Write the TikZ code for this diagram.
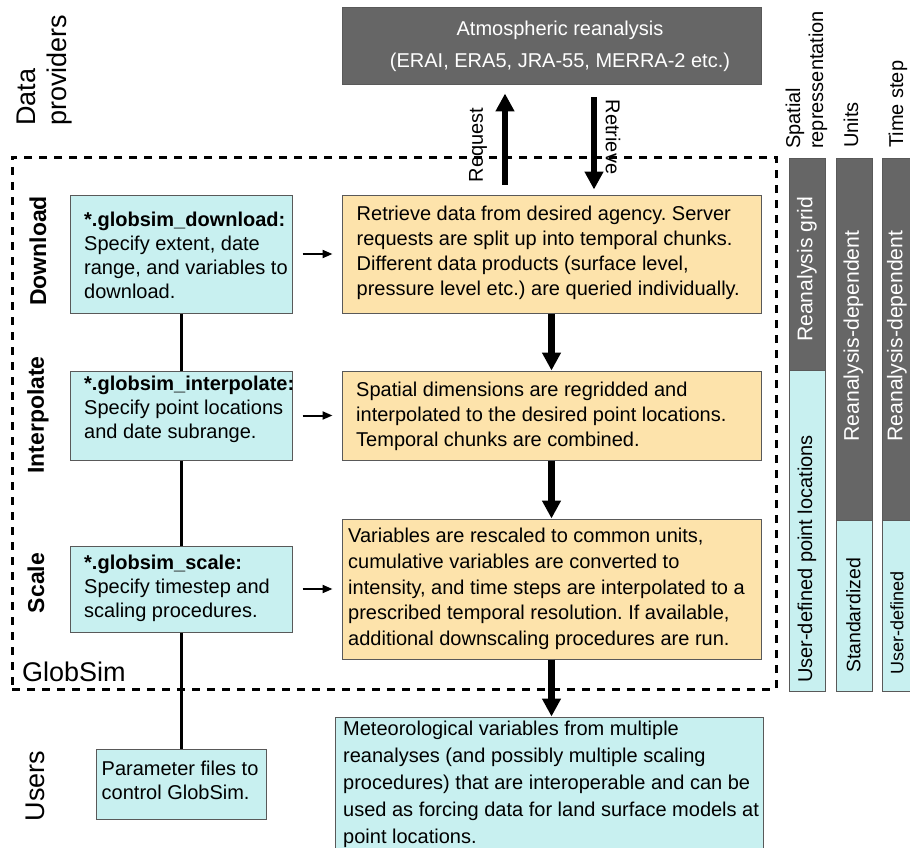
\documentclass[tikz,border=0pt]{standalone}
\usepackage{fontspec}
\setmainfont{Liberation Sans}
\usetikzlibrary{positioning}
\usetikzlibrary{arrows.meta}
\frenchspacing

\definecolor{barGray}{HTML}{666666}
\definecolor{boxCyan}{HTML}{C8F0F0}
\definecolor{boxOrange}{HTML}{FDE3AB}
\definecolor{boxEdge}{HTML}{595959}

\tikzset{
    box/.style={draw=boxEdge, line width=1pt, inner sep=0pt},
    cyanbox/.style={box, fill=boxCyan},
    orangebox/.style={box, fill=boxOrange},
    darkbox/.style={box, fill=barGray},
    cyantext/.style={anchor=west, align=left, inner sep=0pt, font=\fontsize{20}{24}\selectfont},
    orangetext/.style={anchor=west, align=left, inner sep=0pt, font=\fontsize{20}{25}\selectfont},
    bartext/.style={rotate=90, inner sep=0pt, font=\fontsize{20}{24}\selectfont},
    stagelabel/.style={rotate=90, inner sep=0pt, font=\bfseries\fontsize{23}{27}\selectfont},
    biglabel/.style={inner sep=0pt, align=left, font=\fontsize{27}{31}\selectfont},
    headlabel/.style={rotate=90, anchor=west, align=left, inner sep=0pt, font=\fontsize{20}{23}\selectfont},
    thickarrow/.style={line width=6.5pt, -{Triangle[width=18pt,length=18pt]}},
    thinarrow/.style={line width=2pt, -{Triangle[width=8pt,length=10pt]}, shorten <=10pt, shorten >=9pt},
    linkline/.style={line width=3pt},
    framebox/.style={draw, line width=3pt, dash pattern=on 8pt off 7pt, inner sep=0pt}
}

\begin{document}
\begin{tikzpicture}[x=1pt, y=-1pt]
    \useasboundingbox (0, 0) rectangle (910, 848);

    \node[framebox, minimum width=764pt, minimum height=532pt] (globsim) at (394, 423) {};
    \node[biglabel, anchor=west] (globsimname) at (22, 672) {GlobSim};

    \node[biglabel, rotate=90, anchor=west] (providers) at (44.5, 126) {Data\\providers};
    \node[biglabel, rotate=90] (users) at (35, 786) {Users};
    \node[stagelabel] (dlstage) at (38, 251) {Download};
    \node[stagelabel] (ipstage) at (38, 415) {Interpolate};
    \node[stagelabel] (scstage) at (36, 583) {Scale};

    \node[darkbox, minimum width=419pt, minimum height=77pt] (atmos) at (551.5, 46.5) {};
    \node[align=center, text=white, inner sep=0pt, font=\fontsize{20}{32}\selectfont] (atmostext) at (560, 46.5) {Atmospheric reanalysis\\(ERAI, ERA5, JRA-55, MERRA-2 etc.)};

    \node[cyanbox, minimum width=222pt, minimum height=118pt] (dlbox) at (181, 254) {};
    \node[cyanbox, minimum width=222pt, minimum height=89pt] (ipbox) at (181, 415.5) {};
    \node[cyanbox, minimum width=222pt, minimum height=86pt] (scbox) at (181, 589) {};
    \node[cyanbox, minimum width=170pt, minimum height=70pt] (usbox) at (181, 784) {};
    \draw[linkline] (dlbox.south) -- (ipbox.north);
    \draw[linkline] (ipbox.south) -- (scbox.north);
    \draw[linkline] (scbox.south) -- (usbox.north);

    \node[cyantext] (dltext) at (84, 255.5) {\textbf{*.globsim\_download:}\\Specify extent, date\\range, and variables to\\download.};
    \node[cyantext] (iptext) at (84, 409) {\textbf{*.globsim\_interpolate:}\\Specify point locations\\and date subrange.};
    \node[cyantext] (sctext) at (84, 588.5) {\textbf{*.globsim\_scale:}\\Specify timestep and\\scaling procedures.};
    \node[cyantext] (ustext) at (101.5, 780.5) {Parameter files to\\control GlobSim.};

    \node[orangebox, minimum width=419pt, minimum height=118pt] (retrieve) at (551.5, 254) {};
    \node[orangebox, minimum width=419pt, minimum height=89pt] (regrid) at (551.5, 415.5) {};
    \node[orangebox, minimum width=419pt, minimum height=140pt] (rescale) at (551.5, 589) {};
    \node[cyanbox, minimum width=428pt, minimum height=145pt] (result) at (549, 789.5) {};

    \node[orangetext] (retrievetext) at (356.5, 252.5) {Retrieve data from desired agency. Server\\requests are split up into temporal chunks.\\Different data products (surface level,\\pressure level etc.) are queried individually.};
    \node[orangetext] (regridtext) at (356, 416) {Spatial dimensions are regridded and\\interpolated to the desired point locations.\\Temporal chunks are combined.};
    \node[orangetext, font=\fontsize{20}{25.8}\selectfont] (rescaletext) at (348, 589) {Variables are rescaled to common units,\\cumulative variables are converted to\\intensity, and time steps are interpolated to a\\prescribed temporal resolution. If available,\\additional downscaling procedures are run.};
    \node[orangetext, font=\fontsize{20}{27}\selectfont] (resulttext) at (343, 784) {Meteorological variables from multiple\\reanalyses (and possibly multiple scaling\\procedures) that are interoperable and can be\\used as forcing data for land surface models at\\point locations.};

    \draw[thinarrow] (dlbox.east) -- (retrieve.west);
    \draw[thinarrow] (ipbox.east) -- (regrid.west);
    \draw[thinarrow] (scbox.east) -- (rescale.west);

    \draw[thickarrow] (retrieve.south) -- (regrid.north);
    \draw[thickarrow] (regrid.south) -- (rescale.north);
    \draw[thickarrow] (rescale.south) -- (rescale.south |- result.north);

    \draw[thickarrow, shorten <=10pt, shorten >=8pt] ([xshift=-46.5pt]retrieve.north) -- ([xshift=-46.5pt]atmos.south);
    \draw[thickarrow, shorten <=12pt, shorten >=5pt] ([xshift=42.5pt]atmos.south) -- ([xshift=42.5pt]retrieve.north);
    \node[bartext] (request) at (478, 145) {Request};
    \node[bartext, rotate=180] (retrieved) at (613, 137) {Retrieve};

    \node[headlabel] (spatialhead) at (806.5, 149) {Spatial\\repressentation};
    \node[headlabel] (unitshead) at (851, 148) {Units};
    \node[headlabel] (stephead) at (898, 148) {Time step};

    \node[darkbox, minimum width=36pt, minimum height=212pt] (spgrid) at (807, 264) {};
    \node[cyanbox, minimum width=36pt, minimum height=321pt] (sppoint) at (807, 530.5) {};
    \node[darkbox, minimum width=36pt, minimum height=362pt] (unitsraw) at (854, 339) {};
    \node[cyanbox, minimum width=36pt, minimum height=171pt] (unitsstd) at (854, 605.5) {};
    \node[darkbox, minimum width=36pt, minimum height=362pt] (stepraw) at (900, 339) {};
    \node[cyanbox, minimum width=36pt, minimum height=171pt] (stepuser) at (900, 605.5) {};

    \node[bartext, text=white, font=\fontsize{21.2}{24}\selectfont] (spgridtext) at (807, 269.5) {Reanalysis grid};
    \node[bartext] (sppointtext) at (807, 559) {User-defined point locations};
    \node[bartext, text=white, font=\fontsize{21.2}{24}\selectfont] (unitsrawtext) at (853.5, 336) {Reanalysis-dependent};
    \node[bartext, font=\fontsize{19.5}{24}\selectfont] (unitsstdtext) at (853.5, 615.5) {Standardized};
    \node[bartext, text=white, font=\fontsize{21.2}{24}\selectfont] (steprawtext) at (897, 336) {Reanalysis-dependent};
    \node[bartext, font=\fontsize{18}{24}\selectfont] (stepusertext) at (897, 623) {User-defined};
\end{tikzpicture}
\end{document}
